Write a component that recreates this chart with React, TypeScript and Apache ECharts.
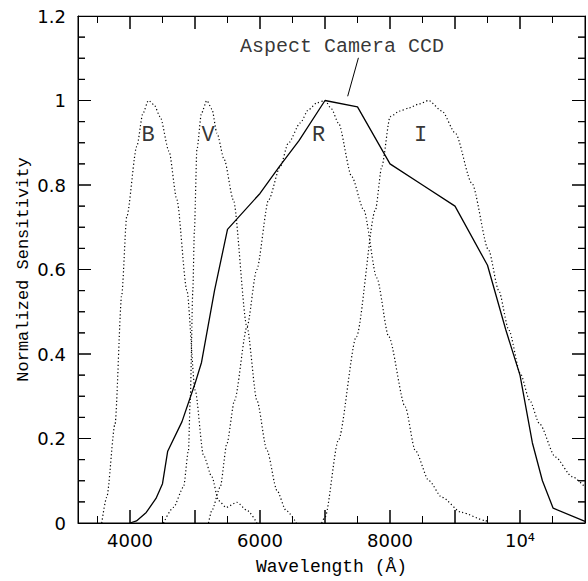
import React, { useEffect, useRef } from "react";
import * as echarts from "echarts";

// Aspect Camera CCD response
const ccdX = [4000, 4100, 4250, 4400, 4500, 4580, 4800, 5000, 5100, 5300, 5500, 6000, 6300, 6600, 7000, 7500, 8000, 8500, 9000, 9500, 9780, 10000, 10190, 10345, 10510, 11000];
const ccdY = [0, 0.005, 0.025, 0.058, 0.093, 0.17, 0.24, 0.33, 0.38, 0.55, 0.695, 0.78, 0.844, 0.905, 1.0, 0.985, 0.85, 0.8, 0.75, 0.61, 0.458, 0.35, 0.19, 0.1, 0.035, 0.004];

// B filter
const bX = [3565, 3642, 3770, 3873, 3950, 4104, 4200, 4283, 4370, 4463, 4600, 4721, 4875, 5003, 5131, 5260, 5362, 5480, 5645, 5800, 5953];
const bY = [0, 0.061, 0.235, 0.54, 0.725, 0.891, 0.97, 1.0, 0.99, 0.962, 0.88, 0.765, 0.551, 0.314, 0.16, 0.109, 0.053, 0.037, 0.049, 0.03, 0];

// V filter
const vX = [4515, 4669, 4823, 4900, 4926, 4967, 4990, 5029, 5100, 5182, 5260, 5337, 5450, 5590, 5800, 5953, 6107, 6261, 6400, 6560];
const vY = [0, 0.037, 0.085, 0.172, 0.29, 0.551, 0.69, 0.883, 0.97, 1.0, 0.98, 0.923, 0.86, 0.765, 0.464, 0.29, 0.172, 0.077, 0.03, 0];

// R filter
const rX = [5208, 5260, 5388, 5491, 5608, 5800, 5950, 6133, 6312, 6436, 6621, 6744, 6880, 7000, 7100, 7206, 7411, 7596, 7797, 7981, 8234, 8388, 8600, 8798, 9100, 9466, 9520];
const rY = [0, 0.03, 0.085, 0.188, 0.29, 0.464, 0.6, 0.765, 0.844, 0.899, 0.947, 0.978, 0.995, 1.0, 0.98, 0.947, 0.82, 0.741, 0.58, 0.441, 0.275, 0.172, 0.1, 0.061, 0.025, 0.006, 0];

// I filter
const iX = [6949, 7001, 7206, 7483, 7776, 7874, 8003, 8150, 8285, 8450, 8593, 8800, 9004, 9260, 9517, 9671, 9830, 10005, 10150, 10300, 10545, 10800, 11000];
const iY = [0, 0.014, 0.196, 0.441, 0.741, 0.844, 0.962, 0.975, 0.982, 0.992, 1.0, 0.975, 0.923, 0.804, 0.646, 0.551, 0.456, 0.354, 0.29, 0.235, 0.156, 0.11, 0.085];

// filter letters
const filterNames = ["B", "V", "R", "I"];
const filterLabelX = [4280, 5200, 6900, 8470];
const filterLabelY = [0.917, 0.917, 0.917, 0.917];

// annotation
const annotText = "Aspect Camera CCD";
const annotPos = [7260, 1.128];
const leaderX = [7514, 7349];
const leaderY = [1.101, 1.01];

// axis ranges and ticks
const xMin = 3200;
const xMax = 11000;
const yMin = 0;
const yMax = 1.2;
const xMajorTicks = [4000, 5000, 6000, 7000, 8000, 9000, 10000];
const xMinorTicks = [3500, 4500, 5500, 6500, 7500, 8500, 9500, 10500];
const xLabelVals = [4000, 6000, 8000, 10000];
const yMajorTicks = [0.2, 0.4, 0.6, 0.8, 1.0];
const yMinorTicks = [0.05, 0.1, 0.15, 0.25, 0.3, 0.35, 0.45, 0.5, 0.55, 0.65, 0.7, 0.75, 0.85, 0.9, 0.95, 1.05, 1.1, 1.15];

const zip = (xs: number[], ys: number[]) => xs.map((x, i) => [x, ys[i]]);

const SERIF = "Liberation Mono";
const NUM = "DejaVu Sans";

// layout (pixels)
const W = 588;
const H = 581;
const G = { left: 78, right: 3, top: 16, bottom: 58 };
const MAJOR_PX = 13;
const MINOR_PX = 7;

export default function App() {
  const ref = useRef<HTMLDivElement>(null);
  useEffect(() => {
    document.body.style.margin = "0";
    const chart = echarts.init(ref.current!, null, { renderer: "svg" });
    const mkLine = () => ({ show: true, onZero: false, lineStyle: { color: "#000", width: 1 } });
    const xAxisBase = (position: string, labels: boolean) => ({
      type: "value",
      min: xMin,
      max: xMax,
      position,
      axisLine: mkLine(),
      splitLine: { show: false },
      axisTick: { show: false },
      axisLabel: {
        show: labels,
        customValues: xLabelVals,
        formatter: (v: number) => (v === 10000 ? "10⁴" : String(v)),
        margin: 8,
        color: "#000",
        fontSize: 18,
        fontFamily: NUM,
      },
    });
    const yAxisBase = (position: string, labels: boolean) => ({
      type: "value",
      min: yMin,
      max: yMax,
      interval: 0.2,
      position,
      axisLine: mkLine(),
      splitLine: { show: false },
      axisTick: { show: false },
      axisLabel: { show: labels, margin: 12, color: "#000", fontSize: 18, fontFamily: NUM },
    });
    const x0: any = xAxisBase("bottom", true);
    x0.name = "Wavelength (Å)";
    x0.nameLocation = "middle";
    x0.nameGap = 35;
    x0.nameTextStyle = { color: "#000", fontSize: 18, fontFamily: SERIF };
    const y0: any = yAxisBase("left", true);
    y0.name = "Normalized Sensitivity";
    y0.nameLocation = "middle";
    y0.nameGap = 46;
    y0.nameMoveOverlap = false;
    y0.nameTextStyle = { color: "#000", fontSize: 17, fontFamily: SERIF };

    // tick lengths converted from pixels to axis units
    const plotW = W - G.left - G.right;
    const plotH = H - G.top - G.bottom;
    const dx = (px: number) => (px / plotW) * (xMax - xMin);
    const dy = (px: number) => (px / plotH) * (yMax - yMin);

    const xTicks = [
      ...xMajorTicks.map((v) => [v, MAJOR_PX]),
      ...xMinorTicks.map((v) => [v, MINOR_PX]),
    ].sort((a, b) => a[0] - b[0]);
    const yTicks = [
      ...yMajorTicks.map((v) => [v, MAJOR_PX]),
      ...yMinorTicks.map((v) => [v, MINOR_PX]),
    ].sort((a, b) => a[0] - b[0]);

    // "comb" polylines running along each frame edge, with inward teeth at the ticks
    const combX = (base: number, dir: number) => {
      const pts: number[][] = [[xMin, base]];
      xTicks.forEach(([v, px]) => {
        pts.push([v, base], [v, base + dir * dy(px)], [v, base]);
      });
      pts.push([xMax, base]);
      return pts;
    };
    const combY = (base: number, dir: number) => {
      const pts: number[][] = [[base, yMin]];
      yTicks.forEach(([v, px]) => {
        pts.push([base, v], [base + dir * dx(px), v], [base, v]);
      });
      pts.push([base, yMax]);
      return pts;
    };
    const comb = (data: number[][]) => ({
      type: "line",
      data,
      symbol: "none",
      silent: true,
      lineStyle: { color: "#000", width: 1, cap: "butt", join: "miter" },
    });

    const dotted = (data: number[][]) => ({
      type: "line",
      data,
      symbol: "none",
      smooth: 0.25,
      smoothMonotone: "x",
      lineStyle: { color: "#000", width: 1.2, type: [1.2, 2.4] },
    });

    const option: any = {
      animation: false,
      grid: G,
      xAxis: [x0, xAxisBase("top", false)],
      yAxis: [y0, yAxisBase("right", false)],
      series: [
        comb(combX(yMin, 1)),
        comb(combX(yMax, -1)),
        comb(combY(xMin, 1)),
        comb(combY(xMax, -1)),
        dotted(zip(bX, bY)),
        dotted(zip(vX, vY)),
        dotted(zip(rX, rY)),
        dotted(zip(iX, iY)),
        {
          type: "line",
          data: zip(ccdX, ccdY),
          symbol: "none",
          lineStyle: { color: "#000", width: 1.3 },
        },
        {
          type: "line",
          data: zip(leaderX, leaderY),
          symbol: "none",
          lineStyle: { color: "#000", width: 1 },
        },
        {
          type: "scatter",
          data: filterNames.map((n, i) => [filterLabelX[i], filterLabelY[i], n]),
          symbolSize: 1,
          itemStyle: { color: "rgba(0,0,0,0)" },
          label: {
            show: true,
            position: "inside",
            formatter: (p: any) => p.data[2],
            color: "#000",
            fontSize: 22,
            fontFamily: SERIF,
          },
        },
        {
          type: "scatter",
          data: [[annotPos[0], annotPos[1], annotText]],
          symbolSize: 1,
          itemStyle: { color: "rgba(0,0,0,0)" },
          label: {
            show: true,
            position: "inside",
            formatter: (p: any) => p.data[2],
            color: "#000",
            fontSize: 20,
            fontFamily: SERIF,
          },
        },
      ],
    };
    chart.setOption(option);
    return () => chart.dispose();
  }, []);
  return <div ref={ref} style={{ width: W, height: H }} />;
}
